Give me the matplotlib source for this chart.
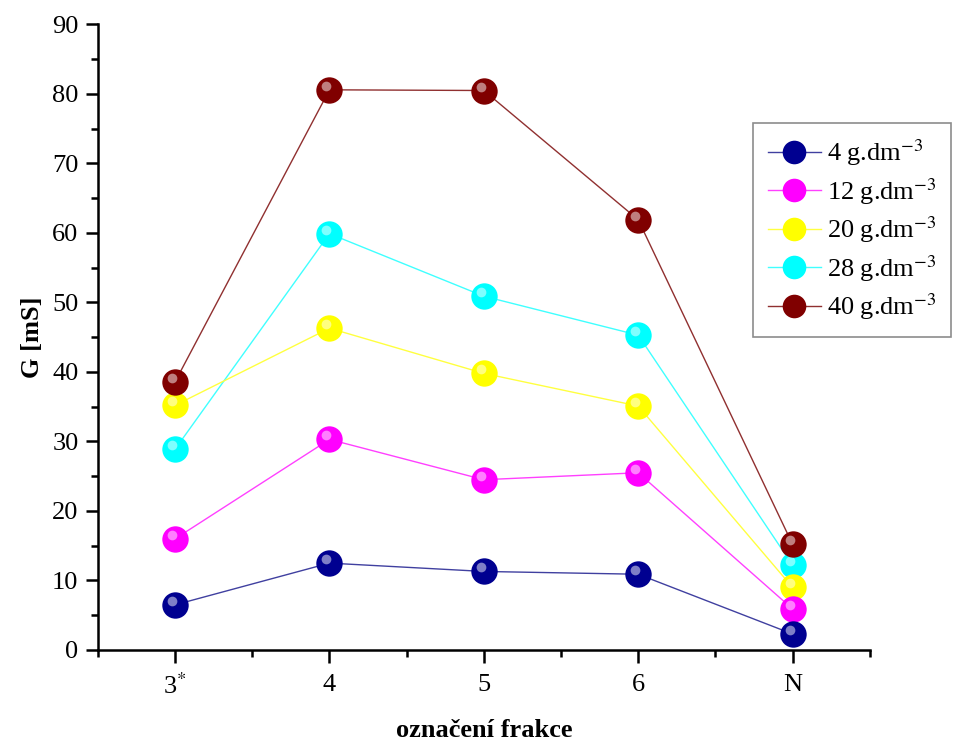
import matplotlib
matplotlib.use('Agg')
import matplotlib.pyplot as plt
from matplotlib.transforms import offset_copy
from matplotlib.ticker import MultipleLocator

plt.rcParams['font.family'] = ['Liberation Serif', 'DejaVu Serif']
plt.rcParams['mathtext.fontset'] = 'stix'

# data
frakce = ['3$^{*}$', '4', '5', '6', 'N']
konc = ['4', '12', '20', '28', '40']
g4 = [6.5, 12.5, 11.3, 10.9, 2.3]
g12 = [16.0, 30.3, 24.5, 25.5, 5.9]
g20 = [35.2, 46.3, 39.8, 35.1, 9.0]
g28 = [28.9, 59.9, 50.9, 45.3, 12.2]
g40 = [38.6, 80.6, 80.5, 61.9, 15.2]

serie = [g4, g12, g20, g28, g40]
barvy = ['#000090', '#ff00ff', '#ffff00', '#00ffff', '#800000']
cary = ['#4040a0', '#ff40ff', '#ffff40', '#40ffff', '#903030']
poradi = [9, 8, 7, 6, 10]

fig = plt.figure(figsize=(9.6, 7.42), dpi=100)
ax = fig.add_axes([0.102, 0.124, 0.804, 0.843])

x = list(range(len(frakce)))
odlesk = offset_copy(ax.transData, fig=fig, x=-3, y=4, units='dots')
handles = []
for y, c, lc, k, z in zip(serie, barvy, cary, konc, poradi):
    ax.plot(x, y, '-', color=lc, linewidth=1, zorder=z - 5)
    ax.plot(x, y, 'o', color=c, markersize=19, markeredgewidth=0, zorder=z)
    ax.plot(x, y, 'o', color='white', markersize=7, markeredgewidth=0,
            alpha=0.5, zorder=z + 0.5, transform=odlesk)
    h, = ax.plot([], [], '-o', color=lc, linewidth=1, markersize=17,
                 markerfacecolor=c, markeredgewidth=0)
    h.set_label(f'{k} g.dm$^{{-3}}$')
    handles.append(h)

ax.set_xlim(-0.5, 4.5)
ax.set_ylim(0, 90)
ax.set_xticks(x)
ax.set_xticklabels(frakce)
ax.xaxis.set_minor_locator(MultipleLocator(0.5))
ax.yaxis.set_major_locator(MultipleLocator(10))
ax.yaxis.set_minor_locator(MultipleLocator(5))

for s in ['top', 'right']:
    ax.spines[s].set_visible(False)
for s in ['left', 'bottom']:
    ax.spines[s].set_linewidth(1.8)
ax.tick_params(which='major', direction='out', length=9, width=1.8,
               labelsize=19, pad=5)
ax.tick_params(axis='x', which='major', pad=8)
ax.tick_params(which='minor', direction='out', length=5, width=1.8)

ax.set_ylabel('G [mS]', fontsize=19, fontweight='bold', labelpad=6)
ax.set_xlabel('označení frakce', fontsize=19, fontweight='bold', labelpad=14)

leg = ax.legend(handles=handles, loc='upper left',
                bbox_to_anchor=(0.849, 0.843), fontsize=19, frameon=True,
                fancybox=False, edgecolor='#707070', handlelength=2.0,
                handletextpad=0.25, borderpad=0.55, borderaxespad=0,
                labelspacing=0.3)
leg.get_frame().set_linewidth(1.2)

plt.savefig('out.png', dpi=100)
plt.close()
